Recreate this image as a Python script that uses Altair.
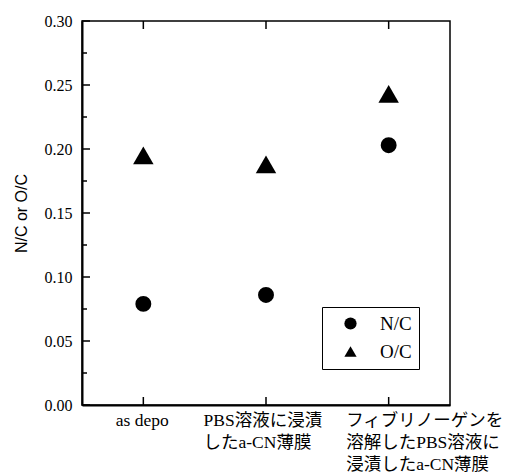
import altair as alt
import pandas as pd

categories = ["as depo", "PBS溶液に浸漬\nしたa-CN薄膜", "フィブリノーゲンを\n溶解したPBS溶液に\n浸漬したa-CN薄膜"]
nc_values = [0.079, 0.086, 0.203]
oc_values = [0.195, 0.188, 0.243]
series_names = ["N/C", "O/C"]
y_major_ticks = [0.0, 0.05, 0.10, 0.15, 0.20, 0.25, 0.30]
y_minor_ticks = [0.025, 0.075, 0.125, 0.175, 0.225, 0.275]

W, H = 368, 384
SERIF = "'Liberation Serif', 'Times New Roman', 'Noto Sans CJK JP', serif"

rows = []
for c, v in zip(categories, nc_values):
    rows.append({"cat": c, "series": "N/C", "value": v})
for c, v in zip(categories, oc_values):
    rows.append({"cat": c, "series": "O/C", "value": v})
df = pd.DataFrame(rows)

xscale = alt.Scale(type="point", padding=0.5, domain=categories)
yscale = alt.Scale(domain=[0, 0.30], nice=False, zero=True)

label_offset = {
    "condition": [
        {"test": "indexof(datum.value, 'as depo') == 0", "value": -28},
        {"test": "indexof(datum.value, 'PBS') == 0", "value": -63},
    ],
    "value": -43,
}

x_axis = alt.Axis(labelExpr="split(datum.label, '\\n')", labelAngle=0,
                  labelAlign="left", labelOffset=label_offset,
                  labelFont=SERIF,
                  labelFontSize=17.5, labelLineHeight=22, labelBaseline="top",
                  labelPadding=6, labelColor="black", ticks=False,
                  domainColor="black", domainWidth=2, labelLimit=300, grid=False)
y_axis = alt.Axis(values=y_major_ticks, format=".2f", ticks=False,
                  labelFont=SERIF, labelFontSize=16,
                  labelColor="black", labelPadding=10,
                  domainColor="black", domainWidth=2,
                  titleFont="Liberation Sans", titleFontSize=16,
                  titleFontWeight="normal", titleColor="black",
                  titlePadding=15, grid=False)

X = alt.X("cat:N", scale=xscale, sort=categories, title=None, axis=x_axis)
Y = alt.Y("value:Q", scale=yscale, title="N/C or O/C", axis=y_axis)

points = alt.Chart(df).mark_point(filled=True, opacity=1, color="black").encode(
    x=X, y=Y,
    shape=alt.Shape("series:N",
                    scale=alt.Scale(domain=series_names, range=["circle", "triangle-up"]),
                    legend=alt.Legend(title=None, orient="none", legendX=240, legendY=286,
                                      strokeColor="black", padding=7, symbolOffset=12,
                                      labelOffset=20, rowPadding=8,
                                      symbolFillColor="black", symbolStrokeColor="black",
                                      symbolSize=150, labelFont=SERIF,
                                      labelFontSize=19, labelColor="black")),
    size=alt.condition("datum.series == 'O/C'", alt.value(420), alt.value(254)),
)

ymaj = pd.DataFrame({"value": y_major_ticks})
ymin = pd.DataFrame({"value": y_minor_ticks})
xt = pd.DataFrame({"cat": categories})

ymaj_ticks = alt.Chart(ymaj).mark_rule(color="black", strokeWidth=1.5).encode(
    y=Y, x=alt.value(0), x2=alt.value(8))
ymin_ticks = alt.Chart(ymin).mark_rule(color="black", strokeWidth=1.5).encode(
    y=Y, x=alt.value(0), x2=alt.value(5))
xb_ticks = alt.Chart(xt).mark_rule(color="black", strokeWidth=1.5).encode(
    x=X, y=alt.value(H), y2=alt.value(H - 8))
xt_ticks = alt.Chart(xt).mark_rule(color="black", strokeWidth=1.5).encode(
    x=X, y=alt.value(0), y2=alt.value(8))

chart = alt.layer(points, ymaj_ticks, ymin_ticks, xb_ticks, xt_ticks).properties(
    width=W, height=H,
    padding={"left": 74, "top": 13, "right": 69, "bottom": 70},
    autosize=alt.AutoSizeParams(type="none"),
    background="white",
).configure_view(stroke="black", strokeWidth=1.5)

chart.save("out.html", embed_options={"renderer": "svg", "actions": False})
